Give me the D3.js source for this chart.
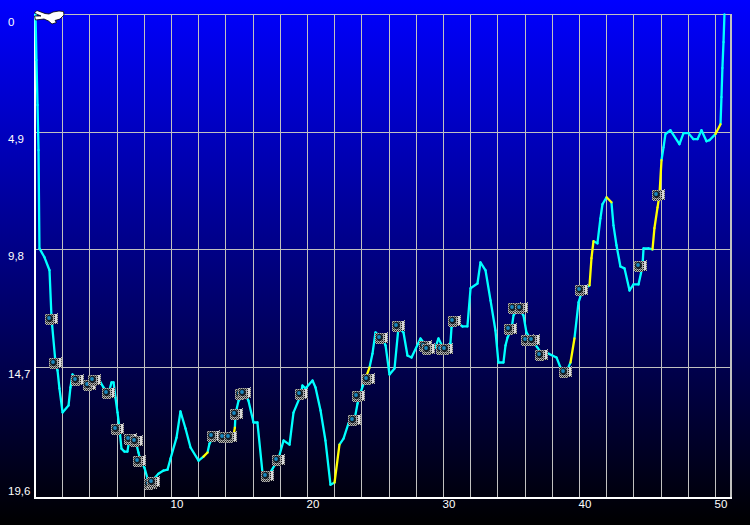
<!DOCTYPE html>
<html><head><meta charset="utf-8">
<script src="https://cdn.jsdelivr.net/npm/d3@7"></script>
<style>html,body{margin:0;padding:0;background:#000;overflow:hidden}svg{display:block}
text{font-family:"Liberation Sans",Arial,sans-serif;font-size:11.5px;fill:#fff}</style>
</head><body><div id="chart"></div>
<script>
const timeValues=[0,0.07,0.15,0.22,0.29,0.66,1.03,1.18,1.47,1.62,1.76,1.99,2.43,2.57,2.72,3.09,4.04,4.41,4.78,5.00,5.37,5.59,5.74,5.88,6.03,6.18,6.32,6.54,6.76,6.91,7.35,7.57,7.72,8.01,8.24,8.53,9.04,9.41,9.71,9.93,10.37,10.66,11.03,11.40,11.99,12.35,12.65,12.79,13.16,14.12,14.60,14.66,14.71,14.93,15.37,15.66,16.03,16.32,16.69,17.13,17.87,18.24,18.68,18.97,19.49,19.63,19.85,20.37,20.59,20.96,21.32,21.69,21.99,22.35,22.65,23.01,23.46,23.68,23.82,24.26,24.56,24.78,25.00,25.51,25.74,26.03,26.40,26.69,27.06,27.35,27.65,28.31,28.82,29.41,29.63,30.00,30.51,30.59,30.88,31.40,31.76,31.99,32.50,32.72,33.09,33.46,33.82,34.04,34.41,34.56,34.71,35.00,35.15,35.51,35.88,36.10,36.47,36.91,37.28,37.72,38.31,38.60,39.04,39.34,39.63,39.93,40.22,40.74,40.88,41.03,41.32,41.54,41.69,41.99,42.35,42.50,42.72,43.01,43.31,43.68,43.97,44.34,44.63,44.71,45.07,45.37,45.51,45.74,45.88,46.03,46.18,46.32,46.69,47.35,47.65,48.01,48.38,48.68,48.97,49.34,49.56,50.00,50.37,50.44,50.51,50.59,50.66];
const depthValues=[0,1.90,3.77,5.65,9.74,10.11,10.65,12.66,14.49,14.82,15.57,16.57,16.28,15.53,14.99,15.20,15.41,15.24,15.32,15.53,15.78,15.32,15.32,15.95,16.57,17.24,18.08,18.20,18.20,17.66,17.74,18.24,18.58,18.87,19.33,19.45,19.12,18.99,18.95,18.49,17.62,16.53,17.24,18.03,18.58,18.41,18.24,17.87,17.54,17.58,17.41,17.20,16.62,16.08,15.78,16.08,16.99,16.99,19.08,19.20,18.49,17.74,17.91,16.58,15.87,15.45,15.57,15.24,15.53,16.49,17.74,19.58,19.49,17.91,17.66,17.03,16.87,16.20,15.87,15.16,14.70,14.12,13.24,13.49,13.78,14.99,14.74,13.03,13.24,14.20,14.28,13.49,13.87,13.87,13.49,13.91,13.70,13.03,12.78,12.99,12.99,11.40,11.20,10.32,10.65,11.91,13.16,14.49,14.49,13.78,13.45,13.11,12.53,12.24,12.53,13.24,13.57,13.87,14.16,14.12,14.28,14.70,14.87,14.49,13.49,11.99,11.49,11.28,10.15,9.44,9.53,8.49,7.90,7.61,7.82,8.78,9.61,10.49,10.57,11.49,11.24,11.24,10.49,9.74,9.74,9.78,8.90,8.03,7.53,6.07,5.53,4.98,4.82,5.40,4.94,4.94,5.19,5.19,4.82,5.28,5.23,4.98,4.57,3.44,2.23,1.15,0];
const yellowStarts=[12.35,14.60,21.99,24.26,39.34,40.74,41.99,45.37,50.00];
const yellowEnds=[12.65,14.66,22.35,24.56,39.63,41.03,42.35,46.03,50.37];
const markerTimes=[1.18,1.54,3.09,4.04,4.41,5.37,6.03,6.99,7.43,7.72,8.46,8.68,13.16,13.90,14.41,14.85,15.22,15.44,17.13,17.87,19.56,23.46,23.82,24.49,25.51,26.76,28.75,28.90,29.93,30.29,30.88,35.00,35.29,35.74,36.25,36.62,37.21,39.04,40.22,44.56,45.88];
const markerDepths=[12.70,14.53,15.20,15.41,15.24,15.78,17.28,17.66,17.78,18.58,19.54,19.45,17.54,17.58,17.58,16.62,15.82,15.78,19.20,18.54,15.82,16.87,15.87,15.16,13.49,12.99,13.82,13.91,13.91,13.91,12.78,13.11,12.24,12.24,13.57,13.57,14.16,14.87,11.49,10.49,7.53];
const depthTicks=[0,4.9,9.8,14.7,19.6];
const depthLabels=["0","4,9","9,8","14,7","19,6"];
const timeGrid=d3.range(2,51,2);

const W=750,H=525;
const x=d3.scaleLinear().domain([0,51.2]).range([35.5,731.8]);
const y=d3.scaleLinear().domain([0,19.6]).range([14.5,485.2]);
const plotBottom=497.7;

const svg=d3.select("#chart").append("svg").attr("width",W).attr("height",H);
const defs=svg.append("defs");
const g=defs.append("linearGradient").attr("id","bg").attr("x1",0).attr("y1",0).attr("x2",0).attr("y2",1);
g.append("stop").attr("offset",0).attr("stop-color","#0000ff");
g.append("stop").attr("offset",1).attr("stop-color","#000000");
svg.append("rect").attr("width",W).attr("height",H).attr("fill","url(#bg)");
const pat=defs.append("pattern").attr("id","dither").attr("width",2).attr("height",2).attr("patternUnits","userSpaceOnUse");
pat.append("rect").attr("width",2).attr("height",2).attr("fill","#b4b4b4");
pat.append("rect").attr("width",1).attr("height",1).attr("fill","#181818");
pat.append("rect").attr("x",1).attr("y",1).attr("width",1).attr("height",1).attr("fill","#585858");

// vertical grid and x labels
const xAxis=d3.axisBottom(x).tickValues(timeGrid).tickSize(-(plotBottom-14.5)).offset(0)
  .tickFormat(d=>d%10===0?String(d):"");
const gx=svg.append("g").attr("transform",`translate(0,${plotBottom})`).call(xAxis);
gx.select(".domain").remove();
gx.selectAll("line").attr("stroke","#c0c0c0").attr("shape-rendering","crispEdges");
gx.selectAll("text").attr("text-anchor","start").attr("x",-1).attr("y",10.5).attr("dy",0);

// horizontal grid and y labels
const yAxis=d3.axisLeft(y).tickValues(depthTicks).tickSize(-(x(51.2)-x(0))).offset(0)
  .tickFormat((d,i)=>depthLabels[i]);
const gy=svg.append("g").attr("transform",`translate(${x(0)},0)`).call(yAxis);
gy.select(".domain").remove();
gy.selectAll("line").attr("stroke",d=>d===19.6?"none":"#c0c0c0").attr("shape-rendering","crispEdges");
gy.selectAll("text").attr("text-anchor","start").attr("x",8-x(0)).attr("y",(d,i)=>11-0.25*i).attr("dy",0);

// frame
svg.append("line").attr("x1",731).attr("x2",731).attr("y1",14).attr("y2",499).attr("stroke","#c0c0c0").attr("stroke-width",2).attr("shape-rendering","crispEdges");
svg.append("line").attr("x1",35).attr("x2",35).attr("y1",14).attr("y2",499).attr("stroke","#fff").attr("stroke-width",2).attr("shape-rendering","crispEdges");
svg.append("line").attr("x1",34).attr("x2",732).attr("y1",498).attr("y2",498).attr("stroke","#fff").attr("stroke-width",2).attr("shape-rendering","crispEdges");

// profile line
const pts=timeValues.map((t,i)=>[t,depthValues[i]]);
const line=d3.line().x(d=>x(d[0])).y(d=>y(d[1]));
const isYellow=(a,b)=>{const m=(a[0]+b[0])/2;return yellowStarts.some((s,i)=>m>=s&&m<=yellowEnds[i]);};
const segs=d3.pairs(pts);
svg.append("g").attr("fill","none").attr("stroke-linecap","round").attr("stroke-linejoin","round")
  .selectAll("path").data(segs.slice().sort((a,b)=>isYellow(a[0],a[1])-isYellow(b[0],b[1]))).join("path")
  .attr("d",d=>line(d)).attr("stroke-width",2.3)
  .attr("stroke",d=>isYellow(d[0],d[1])?"#ffff00":"#00ffff");

// camera markers
const markers=markerTimes.map((t,i)=>[t,markerDepths[i]]);
const mg=svg.append("g").selectAll("g").data(markers).join("g")
  .attr("transform",d=>`translate(${Math.round(x(d[0]))},${Math.round(y(d[1]))})`)
  .attr("shape-rendering","crispEdges");
mg.append("path").attr("d","M-7,-5H4L6,-6V5L4,5H2V6H-6V5H-7Z").attr("fill","url(#dither)");
mg.append("rect").attr("x",3).attr("y",-5).attr("width",2).attr("height",9).attr("fill","#d8d8d8");
mg.append("rect").attr("x",1).attr("y",-4).attr("width",1).attr("height",7).attr("fill","#a8a8a8");
mg.append("circle").attr("cx",-2.5).attr("cy",-0.5).attr("r",3.4).attr("fill","#141c24").attr("shape-rendering","auto");
mg.append("circle").attr("cx",-3).attr("cy",-1).attr("r",1.9).attr("fill","#1888c0").attr("shape-rendering","auto");

// diver icon
svg.append("path")
  .attr("d","M34.5,12.5L37,10.5L45,13.5L49,14L53,12L59,11L63.5,11.5L64,15L60,19L55,20.5L56.5,22.5L52,24L48.5,21L44,19L35.5,20L34.5,16L41,16L36.5,14Z")
  .attr("fill","#fff").attr("stroke","#000").attr("stroke-width",0.8);
</script></body></html>
